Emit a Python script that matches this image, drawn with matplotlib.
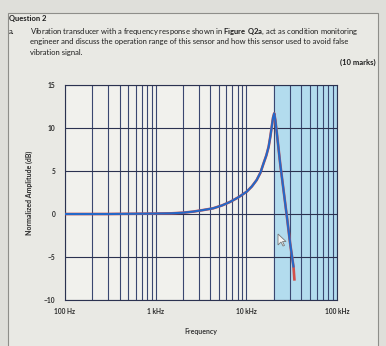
import numpy as np
import matplotlib.pyplot as plt
from matplotlib.ticker import LogLocator, NullFormatter
from matplotlib.patches import Rectangle, Polygon

# frequency response of the vibration transducer
freq_hz = [100, 300, 1000, 1500, 2000, 2600, 3300, 4300, 5400, 6600, 8200,
           10100, 11500, 13000, 14300, 15500, 16600, 17600, 18400, 19100,
           19700, 20300, 20900, 21700, 23600, 25700, 28000, 30400, 33100, 33900]
amp_db = [0.0, 0.0, 0.05, 0.08, 0.15, 0.28, 0.45, 0.66, 1.0, 1.4, 1.95,
          2.6, 3.2, 3.95, 4.8, 5.9, 6.8, 7.8, 9.0, 10.2,
          11.2, 11.7, 10.9, 9.4, 5.9, 2.8, -0.3, -3.4, -6.1, -7.6]

band_hz = [20000, 100000]  # shaded band above resonance
x_ticks = [100, 1000, 10000, 100000]
x_labels = ['100 Hz', '1 kHz', '10 kHz', '100 kHz']
y_ticks = [-10, -5, 0, 5, 10, 15]

W, H = 386, 346
plt.rcParams['font.family'] = ['Lato', 'DejaVu Sans']
plt.rcParams['mathtext.fontset'] = 'custom'
plt.rcParams['mathtext.rm'] = 'Lato'
plt.rcParams['mathtext.bf'] = 'Lato:bold'

fig = plt.figure(figsize=(W / 100, H / 100), dpi=100)
fig.patch.set_facecolor('#dfdfda')

# question box
fig.patches.append(Rectangle((8 / W, -0.05), (378 - 8) / W, 1.05 - 13 / H,
                             transform=fig.transFigure, facecolor='#e9e9e4',
                             edgecolor='#8e8e8a', linewidth=0.8, zorder=-5))

fs = 5.5
txt = '#1e1e1e'
fig.text(9 / W, 1 - 18 / H, 'Question 2', fontsize=fs, fontweight='bold',
         va='center', color=txt)
fig.text(9 / W, 1 - 31.5 / H, 'a.', fontsize=fs, va='center', color=txt)
lines = ['Vibration transducer with a frequency response shown in $\\bf{Figure\\ Q2a}$, act as condition monitoring',
         'engineer and discuss the operation range of this sensor and how this sensor used to avoid false',
         'vibration signal.']
for i, t in enumerate(lines):
    fig.text(30 / W, 1 - (31.5 + 10.3 * i) / H, t, fontsize=fs, va='center',
             color=txt)
fig.text(376 / W, 1 - 62 / H, '(10 marks)', fontsize=fs, fontweight='bold',
         ha='right', va='center', color=txt)

ax = fig.add_axes([65 / W, 1 - 300 / H, (337 - 65) / W, (300 - 85) / H])
ax.set_facecolor('#f1f1ed')
ax.set_xscale('log')
ax.set_xlim(100, 100000)
ax.set_ylim(-10, 15)

ax.axvspan(band_hz[0], band_hz[1], color='#b3dcee', zorder=0)

ax.xaxis.set_minor_locator(LogLocator(base=10, subs=np.arange(2, 10)))
ax.xaxis.set_minor_formatter(NullFormatter())
ax.set_xticks(x_ticks)
ax.set_xticklabels(x_labels)
ax.set_yticks(y_ticks)
ax.grid(which='both', axis='x', color='#3a4770', linewidth=0.8, zorder=1)
ax.grid(which='major', axis='y', color='#2b3250', linewidth=0.8, zorder=1)
ax.set_axisbelow(True)
ax.tick_params(which='both', length=0, labelsize=4.8, colors='#2a2a2a')
ax.tick_params(axis='x', pad=6)
ax.tick_params(axis='y', pad=7)
for lab in ax.get_xticklabels() + ax.get_yticklabels():
    lab.set_fontweight('bold')
for s in ax.spines.values():
    s.set_color('#2b3250')
    s.set_linewidth(0.8)

ax.plot(freq_hz, amp_db, color='#d2504a', linewidth=1.9, zorder=3)
ax.plot(freq_hz[:-1], amp_db[:-1], color='#2468c8', linewidth=1.5, zorder=4)

ax.set_ylabel('Normalized Amplitude (dB)', fontsize=5, fontweight='bold',
              color='#2a2a2a', labelpad=8)
ax.set_xlabel('Frequency', fontsize=5, fontweight='bold', color='#3a3a3a',
              labelpad=9)

# mouse pointer left on the screen
px, py = 278, 234
arrow = np.array([[0, 0], [0, 11], [3, 8], [5, 12], [6.5, 11.5], [4.5, 7.5], [8, 7.5]])
pts = [((px + a) / W, 1 - (py + b) / H) for a, b in arrow]
fig.patches.append(Polygon(pts, closed=True, transform=fig.transFigure,
                           facecolor='#f4f4f4', edgecolor='#777777',
                           linewidth=0.6, zorder=10))

fig.savefig('out.png', dpi=100, facecolor=fig.get_facecolor())
